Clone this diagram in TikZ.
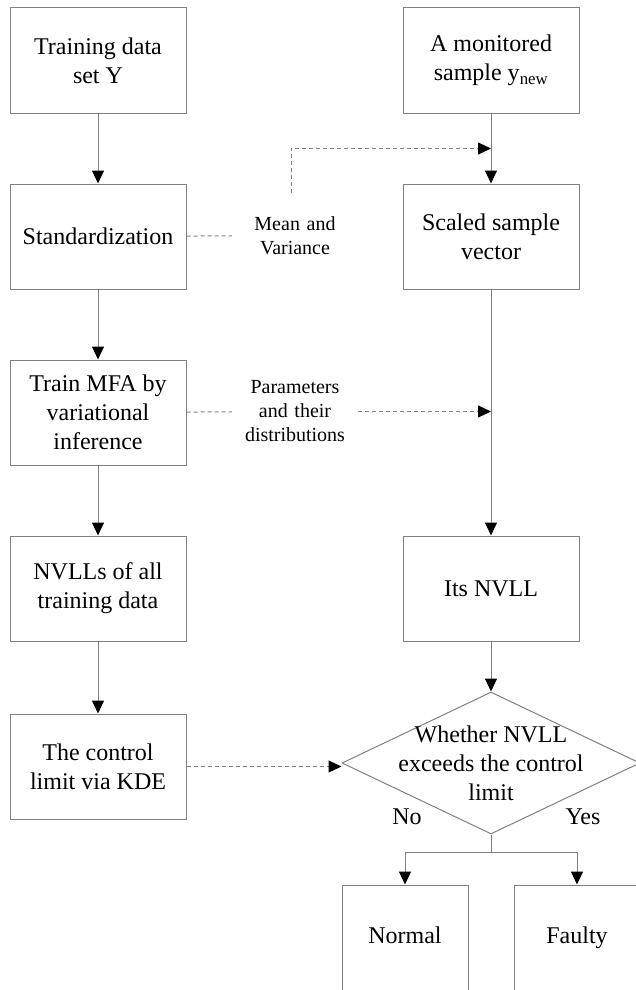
\documentclass[tikz,border=0pt]{standalone}
\usepackage{fontspec}
\setmainfont{Liberation Serif}
\usetikzlibrary{positioning,shapes.geometric,arrows.meta,calc}
\definecolor{lineg}{RGB}{128,128,128}

\begin{document}
\begin{tikzpicture}[x=1pt,y=-1pt,node distance=70pt,
  box/.style={draw=lineg,line width=1pt,minimum width=176pt,minimum height=105pt,align=center,font=\fontsize{24}{29}\selectfont},
  endbox/.style={box,minimum width=126pt,minimum height=106pt,text height=16pt,text depth=5pt},
  lbl/.style={text width=100pt,align=center,inner xsep=13pt,inner ysep=23pt,font=\fontsize{20}{24}\selectfont},
  ln/.style={draw=lineg,line width=1pt},
  dsh/.style={draw=lineg,line width=1pt,dash pattern=on 4pt off 3pt},
  arr/.style={-{Triangle[length=13pt,width=12pt,color=black,fill=black]}}]

\useasboundingbox (0,0) rectangle (636,990);
\clip (0,0) rectangle (636,990);

% training side
\node[box] (tr) at (98,60.5) {Training data\\set Y};
\node[box] (st) [below=of tr] {Standardization};
\node[box] (mfa) [below=of st] {Train MFA by\\variational\\inference};
\node[box] (nvl) [below=of mfa] {NVLLs of all\\training data};
\node[box] (kde) [below=72pt of nvl] {The control\\limit via KDE};

% monitoring side
\node[box] (ms) at (491,60.5) {A monitored\\sample y\textsubscript{new}};
\node[box] (sc) [below=of ms] {Scaled sample\\vector};
\node[box] (nv) [below=246pt of sc] {Its NVLL};
\node[draw=lineg,line width=1pt,shape=diamond,minimum width=298pt,minimum height=142pt,inner sep=0pt] (dm) at (491,763) {};
\node[align=center,font=\fontsize{24}{29}\selectfont] (dq) at (dm.center) {Whether NVLL\\exceeds the control\\limit};
\node[endbox] (nm) at (405,938) {Normal};
\node[endbox] (fl) at (577,938) {Faulty};

\node[lbl] (mv) at (295,235.5) {Mean and\\Variance};
\node[lbl] (pd) at (295,411.5) {Parameters\\and their\\distributions};
\node[font=\fontsize{24}{29}\selectfont] (no) at (407,817) {No};
\node[font=\fontsize{24}{29}\selectfont] (yes) at (583,817) {Yes};

\draw[ln,arr] (tr) -- (st);
\draw[ln,arr] (st) -- (mfa);
\draw[ln,arr] (mfa) -- (nvl);
\draw[ln,arr] (nvl) -- (kde);

\draw[ln,arr] (ms) -- (sc);
\draw[ln,arr] (sc) -- (nv);
\draw[ln,arr] (nv) -- (dm);
\draw[ln] (dm.south) -- ++(0,18) coordinate (br);
\draw[ln,arr] (br) -| (nm.north);
\draw[ln,arr] (br) -| (fl.north);

\coordinate (jmv) at ($(ms.south)!0.5!(sc.north)$);
\draw[dsh] (st) -- (mv);
\draw[dsh,arr] ([xshift=-4pt]mv.north) |- (jmv);
\draw[dsh] (mfa) -- (pd);
\draw[dsh,arr] (pd) -- (pd -| sc);
\draw[dsh,arr] (kde.east) -- (kde -| dm.west);
\end{tikzpicture}
\end{document}
